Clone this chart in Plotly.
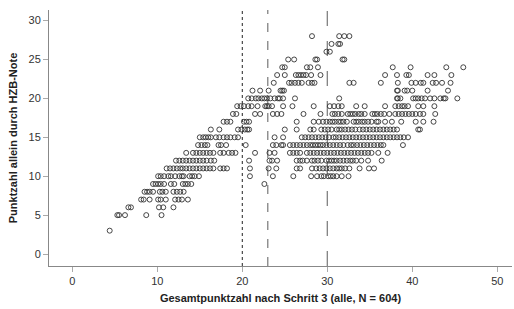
import plotly.graph_objects as go

# x values (Gesamtpunktzahl) for each HZB score row
x_y3 = [4.4]
x_y5 = [5.3, 5.5, 6.2, 8.7, 10.5]
x_y6 = [6.6, 6.9, 10.2, 10.7, 11.9]
x_y7 = [8.1, 8.4, 9.1, 10.1, 10.4, 11.0, 12.1, 12.5, 12.9, 13.6]
x_y8 = [8.5, 8.8, 9.1, 9.5, 10.3, 10.6, 11.0, 11.9, 12.3, 12.7, 13.1]
x_y9 = [9.5, 9.8, 10.1, 10.4, 10.8, 11.6, 12.0, 13.0, 13.3, 13.6, 14.0, 22.6]
x_y10 = [10.1, 10.4, 10.8, 11.3, 11.6, 12.1, 12.6, 12.9, 13.1, 13.8, 14.1, 14.4, 14.9,
         20.9, 23.6, 26.0, 28.1, 28.8, 29.3, 29.6, 30.1, 30.4, 30.7, 31.1, 31.7, 32.5]
x_y11 = [11.1, 11.5, 11.9, 12.3, 12.7, 13.0, 13.4, 13.8, 14.2, 14.6, 15.0, 15.4, 15.8,
         16.2, 16.6, 17.4, 17.8, 18.2, 20.9, 23.1, 24.0, 26.4, 26.8, 28.2, 28.7, 29.1,
         29.5, 29.9, 30.3, 30.7, 31.1, 31.4, 31.7, 32.1, 32.6, 33.8, 34.9, 35.5]
x_y12 = [12.2, 12.6, 13.0, 13.4, 13.8, 14.2, 14.6, 15.0, 15.4, 15.8, 16.3, 16.7, 20.8,
         23.2, 23.5, 24.1, 26.4, 26.8, 27.1, 27.6, 28.2, 28.5, 28.9, 29.3, 29.9, 30.2,
         30.5, 30.8, 31.1, 31.5, 31.9, 32.3, 32.7, 33.0, 33.4, 34.0, 34.8, 36.4]
x_y13 = [13.4, 14.2, 14.6, 15.0, 15.4, 15.8, 16.2, 16.6, 17.4, 17.8, 18.4, 18.8, 19.2,
         21.5, 23.2, 23.8, 25.6, 26.0, 26.4, 26.8, 27.6, 28.0, 28.4, 28.8, 29.2, 29.6,
         30.0, 30.4, 30.8, 31.2, 31.6, 32.0, 32.4, 32.8, 33.2, 33.6, 34.0, 34.4, 34.8,
         35.2, 36.0, 37.1]
x_y14 = [14.8, 15.2, 15.6, 15.9, 17.2, 17.5, 18.1, 20.4, 23.6, 24.0, 24.6, 24.8, 25.6,
         26.0, 26.4, 26.8, 27.2, 27.6, 28.0, 28.3, 28.6, 28.9, 29.2, 29.5, 29.9, 30.3,
         30.7, 31.1, 31.5, 31.9, 32.4, 32.8, 33.1, 33.5, 33.9, 34.3, 34.7, 35.1, 35.5,
         35.9, 36.3, 36.6, 38.9]
x_y15 = [15.0, 15.4, 15.7, 16.0, 16.3, 16.9, 17.3, 17.8, 18.2, 18.6, 19.1, 19.5, 23.8,
         24.8, 27.0, 27.4, 27.8, 28.2, 28.6, 29.0, 29.4, 29.8, 30.2, 30.7, 31.0, 31.4,
         31.8, 32.2, 32.6, 33.0, 33.4, 33.8, 34.2, 34.6, 35.0, 35.4, 35.8, 36.2, 36.6,
         37.0, 37.4, 37.8, 38.2, 38.6, 39.0, 39.5]
x_y16 = [16.3, 17.3, 19.5, 19.9, 20.3, 20.6, 20.8, 25.0, 26.4, 28.0, 28.4, 29.3, 29.7,
         30.1, 30.5, 31.1, 31.4, 31.7, 32.1, 32.5, 32.9, 33.3, 33.8, 34.2, 34.6, 35.0,
         35.4, 35.8, 36.2, 36.6, 37.0, 37.4, 37.8, 38.2, 40.7, 40.9]
x_y17 = [17.8, 18.2, 18.6, 20.2, 20.5, 20.8, 26.4, 28.4, 29.0, 29.5, 29.9, 30.3, 30.6,
         30.9, 31.3, 31.6, 31.9, 32.3, 33.1, 33.4, 33.7, 34.1, 34.4, 34.8, 35.2, 35.8,
         36.0, 36.8, 37.6, 38.7, 40.4, 41.3, 42.5]
x_y18 = [18.9, 19.3, 21.5, 22.1, 23.6, 24.1, 24.6, 27.2, 29.2, 30.6, 30.9, 31.3, 31.7,
         32.4, 32.7, 33.0, 33.3, 33.7, 34.0, 34.4, 35.3, 35.6, 35.9, 36.3, 36.7, 37.3,
         38.0, 38.4, 38.8, 39.2, 39.6, 40.0, 40.4, 40.9, 41.3, 42.7]
x_y19 = [19.4, 19.8, 20.2, 20.7, 21.1, 21.8, 22.7, 22.9, 23.1, 23.5, 24.8, 25.9, 28.4,
         30.3, 30.8, 31.3, 31.7, 33.4, 34.4, 36.8, 38.0, 38.4, 38.8, 39.1, 39.5, 40.7,
         41.3, 42.6]
x_y20 = [20.7, 21.1, 21.6, 21.9, 22.3, 22.6, 22.9, 23.3, 23.8, 24.2, 24.4, 24.8, 26.2,
         31.4, 38.2, 38.3, 38.6, 40.1, 40.4, 40.7, 41.1, 41.5, 42.1, 42.6, 43.3, 43.7,
         43.9, 45.3]
x_y21 = [21.2, 22.1, 23.1, 24.5, 24.7, 24.9, 38.2, 38.3, 39.1, 39.4, 40.0, 41.8, 44.2]
x_y22 = [23.7, 25.5, 25.8, 26.2, 26.6, 27.0, 27.8, 28.2, 28.5, 32.6, 33.1, 36.3, 38.3,
         39.9, 40.4, 41.0, 41.3, 42.4, 42.8, 43.5, 44.5]
x_y23 = [24.1, 25.0, 26.3, 26.6, 26.9, 27.2, 27.5, 28.1, 29.2, 36.8, 38.2, 39.3, 39.6,
         41.8, 42.6, 44.6]
x_y24 = [24.7, 25.0, 27.6, 28.0, 28.9, 37.7, 39.8, 44.0, 46.0]
x_y25 = [25.4, 26.1, 28.6, 28.8, 31.8, 32.0]
x_y26 = [29.9, 30.3]
x_y27 = [30.5, 31.3, 31.5]
x_y28 = [28.2, 31.4, 32.0, 32.6]

hzb_scores = [3, 5, 6, 7, 8, 9, 10, 11, 12, 13, 14, 15, 16, 17, 18, 19, 20, 21, 22, 23, 24, 25, 26, 27, 28]
row_lists = [x_y3, x_y5, x_y6, x_y7, x_y8, x_y9, x_y10, x_y11, x_y12, x_y13, x_y14, x_y15,
             x_y16, x_y17, x_y18, x_y19, x_y20, x_y21, x_y22, x_y23, x_y24, x_y25, x_y26,
             x_y27, x_y28]

ref_lines = [20, 23, 30]
ref_styles = [("dot", "#222222", 1), ("dash", "#777777", 1.2), ("longdash", "#777777", 1.2)]

xs, ys = [], []
for yv, lst in zip(hzb_scores, row_lists):
    xs.extend(lst)
    ys.extend([yv] * len(lst))

fig = go.Figure()
fig.add_trace(go.Scatter(
    x=xs, y=ys, mode="markers",
    marker=dict(symbol="circle-open", size=5, color="#333333", line=dict(width=0.9)),
    showlegend=False, hoverinfo="skip"))

shapes = []
for xv, (dash, col, w) in zip(ref_lines, ref_styles):
    shapes.append(dict(type="line", xref="x", yref="paper", x0=xv, x1=xv, y0=0, y1=1,
                       line=dict(color=col, width=w, dash=dash), layer="below"))

font_family = "Liberation Sans, Arial, sans-serif"
fig.update_layout(
    width=514, height=309,
    margin=dict(l=49, r=2, t=10, b=43),
    paper_bgcolor="white", plot_bgcolor="white",
    font=dict(family=font_family, size=11, color="#333333"),
    shapes=shapes,
    xaxis=dict(range=[-2.74, 51.73], tickvals=[0, 10, 20, 30, 40, 50],
               showgrid=False, zeroline=False, showline=True, linecolor="#888888",
               linewidth=1, ticks="outside", ticklen=5, tickcolor="#aaaaaa",
               tickfont=dict(size=11, color="#333333"),
               title=dict(text="<b>Gesamtpunktzahl nach Schritt 3 (alle, N = 604)</b>",
                          font=dict(size=11, color="#222222"), standoff=8)),
    yaxis=dict(range=[-1.54, 31.36], tickvals=[0, 5, 10, 15, 20, 25, 30],
               showgrid=False, zeroline=False, showline=True, linecolor="#888888",
               linewidth=1, ticks="outside", ticklen=5, tickcolor="#aaaaaa",
               tickfont=dict(size=11, color="#333333"),
               title=dict(text="<b>Punktzahl allein durch HZB-Note</b>",
                          font=dict(size=11, color="#222222"), standoff=8)),
)

fig.write_html("out.html", config={"displayModeBar": False},
               post_script="document.body.style.margin='0';")
